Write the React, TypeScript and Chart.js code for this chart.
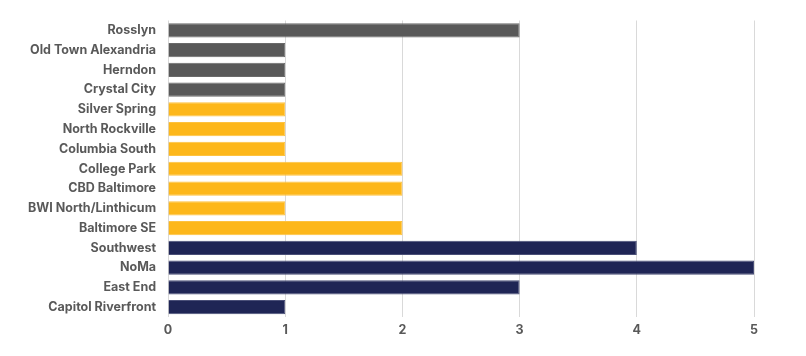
import React, { useEffect, useRef } from "react";
import { Chart, registerables } from "chart.js";

Chart.register(...registerables);

const categories = [
  "Rosslyn",
  "Old Town Alexandria",
  "Herndon",
  "Crystal City",
  "Silver Spring",
  "North Rockville",
  "Columbia South",
  "College Park",
  "CBD Baltimore",
  "BWI North/Linthicum",
  "Baltimore SE",
  "Southwest",
  "NoMa",
  "East End",
  "Capitol Riverfront",
];

const values = [3, 1, 1, 1, 1, 1, 1, 2, 2, 1, 2, 4, 5, 3, 1];

const groups = ["va", "va", "va", "va", "md", "md", "md", "md", "md", "md", "md", "dc", "dc", "dc", "dc"];

const groupColors: Record<string, string> = {
  va: "#595959",
  md: "#FDB71A",
  dc: "#1F2555",
};
const groupBorders: Record<string, string> = {
  va: "#6a6a6a",
  md: "#FDC23F",
  dc: "#4a4f78",
};

const xTicks = [0, 1, 2, 3, 4, 5];

export default function App() {
  const ref = useRef<HTMLCanvasElement | null>(null);

  useEffect(() => {
    if (!ref.current) return;
    const chart = new Chart(ref.current, {
      type: "bar",
      data: {
        labels: categories,
        datasets: [
          {
            data: values,
            backgroundColor: groups.map((g) => groupColors[g]),
            borderColor: groups.map((g) => groupBorders[g]),
            borderWidth: 1,
            categoryPercentage: 0.72,
            barPercentage: 1,
          },
        ],
      },
      options: {
        indexAxis: "y",
        animation: false,
        responsive: true,
        maintainAspectRatio: false,
        layout: { padding: { top: 0, right: 44, bottom: 4, left: 8 } },
        plugins: { legend: { display: false }, tooltip: { enabled: false } },
        scales: {
          x: {
            min: xTicks[0],
            max: xTicks[xTicks.length - 1],
            afterBuildTicks: (axis: any) => {
              axis.ticks = xTicks.map((v) => ({ value: v }));
            },
            grid: { color: "#d9d9d9", drawTicks: false },
            border: { display: false },
            ticks: {
              padding: 6,
              color: "#595959",
              font: { family: "Inter", size: 12.5, weight: "bold" },
            },
          },
          y: {
            grid: { display: false, drawTicks: false },
            border: { display: false },
            ticks: {
              padding: 12,
              color: "#595959",
              font: { family: "Inter", size: 12.5, weight: "bold" },
            },
          },
        },
      },
    });
    return () => chart.destroy();
  }, []);

  return (
    <div style={{ width: 790, height: 347, marginTop: -7 }}>
      <canvas ref={ref} />
    </div>
  );
}
